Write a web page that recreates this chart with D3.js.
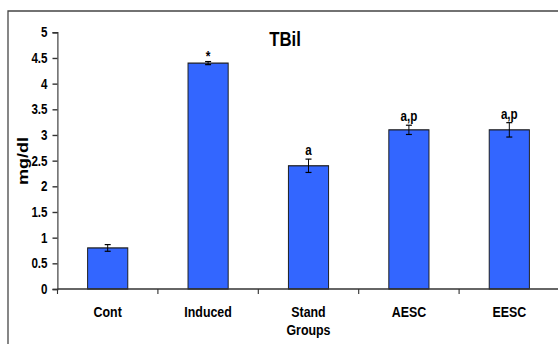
<!DOCTYPE html>
<html>
<head>
<meta charset="utf-8">
<script src="https://cdn.jsdelivr.net/npm/d3@7"></script>
<style>
  html, body { margin: 0; padding: 0; background: #fff; }
  svg { display: block; }
  text { font-family: "Liberation Sans", Arial, sans-serif; fill: #000; }
</style>
</head>
<body>
<script>
// TBil (mg/dl) per group, mean with error bar
const categories = ["Cont", "Induced", "Stand\nGroups", "AESC", "EESC"];
const means = [0.8, 4.4, 2.4, 3.1, 3.1];
const errors = [0.065, 0.03, 0.13, 0.09, 0.14];
const marks = ["", "*", "a", "a,p", "a,p"];
const yTicks = [0, 0.5, 1, 1.5, 2, 2.5, 3, 3.5, 4, 4.5, 5];
const yTickLabels = ["0", "0.5", "1", "1.5", "2", "2.5", "3", "3.5", "4", "4.5", "5"];

// The drawing is laid out in a wider coordinate space and squeezed
// horizontally, which gives the condensed look of the lettering.
const pxW = 558, pxH = 344, squeeze = 0.8;
const W = pxW / squeeze, H = pxH;
const sx = v => v / squeeze;

const svg = d3.select("body").append("svg")
  .attr("width", pxW).attr("height", pxH)
  .attr("viewBox", `0 0 ${W} ${H}`)
  .attr("preserveAspectRatio", "none");

// outer frame (top and left edges visible)
svg.append("path")
  .attr("d", `M${sx(8)},${H} V11 H${W}`)
  .attr("fill", "none").attr("stroke", "#444").attr("stroke-width", 1.6);

const x0 = sx(57.5), x1 = sx(559.5);
const yBase = 289, yTop = 32.3;

const x = d3.scaleBand().domain(d3.range(categories.length))
  .range([x0, x1]).paddingInner(0.6).paddingOuter(0.3);
const y = d3.scaleLinear().domain([0, 5]).range([yBase, yTop]);

// bars
svg.selectAll("rect.bar").data(means).join("rect")
  .attr("class", "bar")
  .attr("x", (d, i) => x(i))
  .attr("width", x.bandwidth())
  .attr("y", d => y(d))
  .attr("height", d => yBase - y(d))
  .attr("fill", "#3366ff")
  .attr("stroke", "#1a1a1a").attr("stroke-width", 1.2);

// error bars
const cap = sx(3);
const eb = svg.append("g").attr("stroke", "#000").attr("stroke-width", 1.2);
means.forEach((m, i) => {
  const cx = x(i) + x.bandwidth() / 2;
  const lo = y(m - errors[i]), hi = y(m + errors[i]);
  eb.append("line").attr("x1", cx).attr("x2", cx).attr("y1", lo).attr("y2", hi);
  eb.append("line").attr("x1", cx - cap).attr("x2", cx + cap).attr("y1", lo).attr("y2", lo);
  eb.append("line").attr("x1", cx - cap).attr("x2", cx + cap).attr("y1", hi).attr("y2", hi);
});

// significance marks
svg.selectAll("text.mark").data(marks).join("text")
  .attr("class", "mark")
  .attr("x", (d, i) => x(i) + x.bandwidth() / 2)
  .attr("y", (d, i) => y(means[i] + errors[i]) - (d === "*" ? 1 : 4))
  .attr("text-anchor", "middle")
  .attr("font-size", d => d === "*" ? 15 : 14.5)
  .attr("font-weight", "bold")
  .text(d => d);

// y axis
const yAxis = d3.axisLeft(y).tickValues(yTicks)
  .tickFormat((d, i) => yTickLabels[i])
  .tickSize(sx(5)).tickPadding(sx(5));
const gy = svg.append("g").attr("transform", `translate(${x0},0)`).call(yAxis);
gy.select(".domain").attr("stroke", "#333").attr("stroke-width", 1.4);
gy.selectAll(".tick line").attr("stroke", "#333").attr("stroke-width", 1.4);
gy.selectAll(".tick text")
  .attr("font-size", 14.5).attr("font-weight", "bold")
  .attr("font-family", "'Liberation Sans', Arial, sans-serif").attr("fill", "#000");

// x axis: line with ticks on category boundaries
const boundaries = d3.range(categories.length).map(i => x(i) - x.step() * x.paddingOuter());
svg.append("line")
  .attr("x1", x0).attr("x2", W).attr("y1", yBase).attr("y2", yBase)
  .attr("stroke", "#333").attr("stroke-width", 1.4);
svg.selectAll("line.xtick").data(boundaries).join("line")
  .attr("class", "xtick")
  .attr("x1", d => d).attr("x2", d => d)
  .attr("y1", yBase).attr("y2", yBase + 5)
  .attr("stroke", "#333").attr("stroke-width", 1.4);

// category labels
categories.forEach((c, i) => {
  const t = svg.append("text")
    .attr("x", x(i) + x.bandwidth() / 2)
    .attr("y", 317.5)
    .attr("text-anchor", "middle")
    .attr("font-size", 15.5).attr("font-weight", "bold");
  c.split("\n").forEach((line, j) => {
    t.append("tspan")
      .attr("x", x(i) + x.bandwidth() / 2)
      .attr("dy", j === 0 ? 0 : 17.5)
      .text(line);
  });
});

// title
svg.append("text")
  .attr("x", sx(285)).attr("y", 46.5)
  .attr("text-anchor", "middle")
  .attr("font-size", 21).attr("font-weight", "bold")
  .text("TBil");

// y axis title
svg.append("text")
  .attr("transform", `translate(${sx(28)},161) rotate(-90)`)
  .attr("text-anchor", "middle")
  .attr("font-size", 18).attr("font-weight", "bold")
  .text("mg/dl");
</script>
</body>
</html>
